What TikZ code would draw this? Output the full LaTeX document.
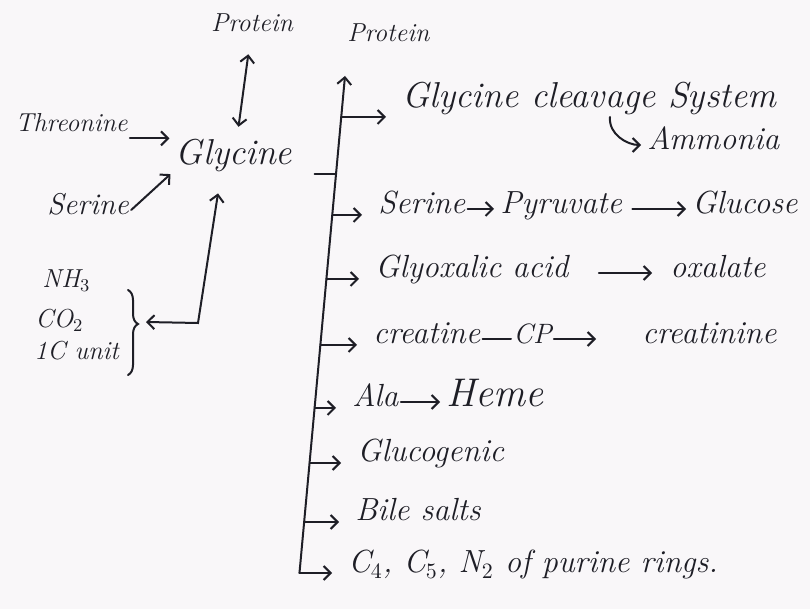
\documentclass[tikz,border=0pt]{standalone}
\usepackage{amsmath}
\usetikzlibrary{arrows.meta, calc, decorations.pathreplacing}
\definecolor{ink}{RGB}{30,30,38}
\definecolor{paper}{RGB}{249,247,249}

\begin{document}
\begin{tikzpicture}[x=0.5pt, y=0.5pt,
    word/.style={text=ink, font=\fontsize{16}{19}\selectfont\itshape, inner sep=1pt, text height=0.7em, text depth=0.2em, anchor=west},
    small/.style={font=\fontsize{13}{16}\selectfont\itshape},
    big/.style={font=\fontsize{18}{21}\selectfont\itshape},
    pen/.style={draw=ink, line width=1pt, line cap=round},
    flow/.style={pen, -{Straight Barb[length=3.5pt,width=7pt]}, shorten >=2pt},
    branch/.style={flow, shorten >=7pt}]

    % Paper
    \fill[paper] (0,0) rectangle (810,-609);
    \useasboundingbox (0,0) rectangle (810,-609);

    % Where glycine comes from
    \node[word, small, anchor=center] (prot1) at (252,-27) {Protein};
    \node[word, small] (thr) at (13,-127) {Threonine};
    \node[word, big, anchor=center] (gly) at (234,-160) {Glycine};
    \node[word, font=\fontsize{15}{18}\selectfont\itshape] (ser) at (45,-210) {Serine};
    \node[word, small] (nh3) at (40,-283) {NH$_3$};
    \node[word, small] (co2) at (33,-323) {CO$_2$};
    \node[word, small] (onec) at (32,-355) {1C unit};

    \draw[pen, {Straight Barb[length=3.5pt,width=7pt]}-{Straight Barb[length=3.5pt,width=7pt]}, shorten <=8pt, shorten >=11pt] (prot1) -- (gly);
    \draw[flow] (thr.south east) -- (thr.south east -| gly.west);
    \draw[flow] (ser.east) -- (gly.south west);

    % Brace round the one-carbon sources
    \draw[pen, decorate, decoration={brace, amplitude=5pt, aspect=0.4}] (128,-290) -- (128,-375);
    \coordinate (brtip) at (146,-322);
    \coordinate (crn) at (198,-323);
    \draw[pen, {Straight Barb[length=3.5pt,width=7pt]}-{Straight Barb[length=3.5pt,width=7pt]}] (brtip) -- (crn) -- ($(gly.south)+(-16,-22)$);

    % Main trunk
    \node[word, small] (prot2) at (345,-37) {Protein};
    \coordinate (vtop) at (345,-76);
    \foreach \yy/\nm in {117/b1, 174/d0, 215/b2, 279/b3, 345/b4, 408/b5, 463/b6, 522/b7, 573/b8}
        \coordinate (\nm) at ({345-0.0916*(\yy-76)}, -\yy);
    \draw[flow, shorten >=0pt] (b8) -- (vtop);
    \draw[pen, shorten >=10pt] (d0) -- (d0 -| gly.east);

    % What glycine gives
    \node[word, big] (cls) at (400,-103) {Glycine cleavage System};
    \node[word] (amm) at (645,-145) {Ammonia};
    \coordinate (hk) at (610,-117);
    \draw[branch] (b1) -- (b1 -| cls.west);
    \draw[flow] (hk) to[out=-95, in=180] (amm.west);

    \node[word] (ser2) at (376,-209) {Serine};
    \node[word] (pyr) at (498,-209) {Pyruvate};
    \node[word] (glc) at (690,-209) {Glucose};
    \draw[branch] (b2) -- (b2 -| ser2.west);
    \draw[flow] (ser2) -- (pyr);
    \draw[flow, shorten <=4pt] (pyr) -- (glc);

    \node[word] (glx) at (373,-273) {Glyoxalic acid};
    \node[word] (oxl) at (668,-273) {oxalate};
    \draw[branch] (b3) -- (b3 -| glx.west);
    \draw[flow, shorten <=14pt, shorten >=8pt] (glx) -- (oxl);

    \node[word] (cre) at (371,-339) {creatine};
    \node[word, font=\fontsize{14}{17}\selectfont\itshape] (cp) at (511,-339) {CP};
    \node[word] (crt) at (640,-339) {creatinine};
    \draw[branch] (b4) -- (b4 -| cre.west);
    \draw[pen] (cre) -- (cp);
    \draw[flow, shorten >=22pt] (cp) -- (crt);

    \node[word] (ala) at (350,-402) {Ala};
    \node[word, font=\fontsize{20}{23}\selectfont\itshape] (heme) at (444,-402) {Heme};
    \draw[branch] (b5) -- (b5 -| ala.west);
    \draw[flow] (ala) -- (heme);

    \node[word] (glcg) at (355,-457) {Glucogenic};
    \draw[branch] (b6) -- (b6 -| glcg.west);

    \node[word] (bile) at (353,-516) {Bile salts};
    \draw[branch] (b7) -- (b7 -| bile.west);

    \node[word] (pur) at (346,-568) {C$_4$, C$_5$, N$_2$ of purine rings.};
    \draw[branch] (b8) -- (b8 -| pur.west);
\end{tikzpicture}
\end{document}
